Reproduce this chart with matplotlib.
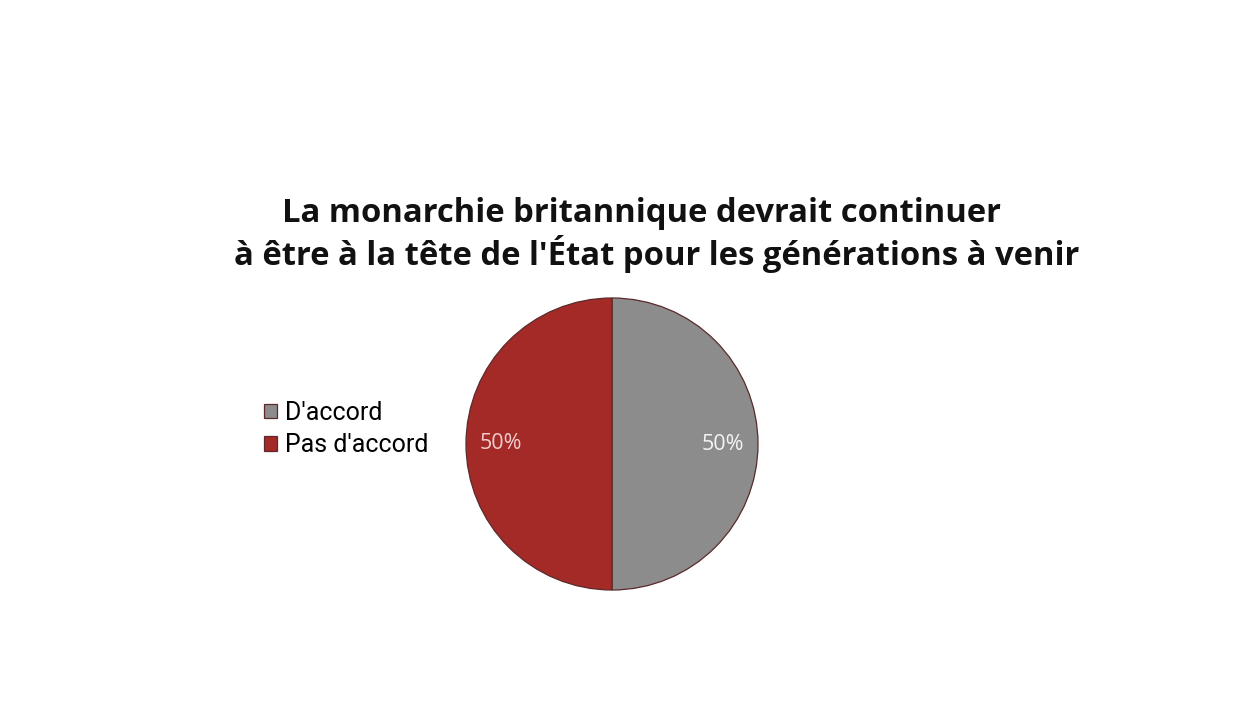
import matplotlib.pyplot as plt

# data
labels = ["D'accord", "Pas d'accord"]
values = [50, 50]
colors = ["#8c8c8c", "#a32a27"]
pct_colors = ["#f4f4f4", "#f2cccc"]

W, H = 1250, 703
fig = plt.figure(figsize=(W / 100, H / 100), dpi=100)

# pie placed by pixel centre and radius
cx, cy, r = 612, 444, 146
ax = fig.add_axes([(cx - r) / W, (H - cy - r) / H, 2 * r / W, 2 * r / H])
wedges, texts, autotexts = ax.pie(values, colors=colors, startangle=90,
                                  counterclock=False, autopct="%d%%",
                                  pctdistance=0.76,
                                  wedgeprops=dict(edgecolor="#5a2a2a", linewidth=0.9))
for t, c in zip(autotexts, pct_colors):
    t.set_color(c)
    t.set_fontsize(15.5)
    t.set_family("Open Sans")
ax.set_xlim(-1.0, 1.0)
ax.set_ylim(-1.0, 1.0)
ax.set_aspect("equal")
ax.axis("off")

# title, two lines
fig.text(641 / W, 1 - 213 / H, "La monarchie britannique devrait continuer",
         ha="center", va="center", fontsize=23.6, fontweight="bold",
         family="Open Sans", color="#111111")
fig.text(657 / W, 1 - 254 / H, "à être à la tête de l'État pour les générations à venir",
         ha="center", va="center", fontsize=23.6, fontweight="bold",
         family="Open Sans", color="#111111")

# legend
leg = fig.legend(wedges, labels, loc="center left",
                 bbox_to_anchor=(254 / W, 1 - 429 / H), frameon=False,
                 prop=dict(family="Roboto", size=18), handlelength=0.5,
                 handleheight=0.5, handletextpad=0.35, labelspacing=0.35,
                 borderaxespad=0)

fig.savefig("out.png", dpi=100, facecolor="white")
